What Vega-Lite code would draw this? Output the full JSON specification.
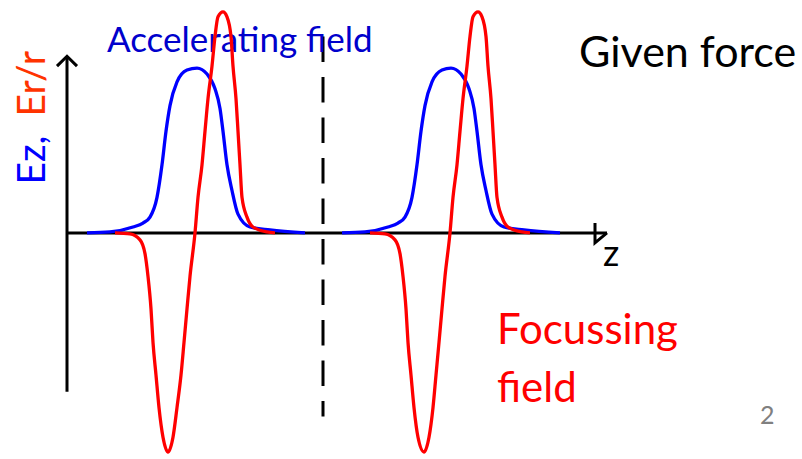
{
  "$schema": "https://vega.github.io/schema/vega-lite/v6.json",
  "width": 802,
  "height": 459,
  "autosize": {"type": "fit", "contains": "padding"},
  "padding": 0,
  "background": "white",
  "config": {"view": {"stroke": null}},
  "datasets": {
    "curves": [
      {"series": "Ez", "pulse": 1, "z": 20, "E": 0},
      {"series": "Ez", "pulse": 1, "z": 43, "E": 1},
      {"series": "Ez", "pulse": 1, "z": 66, "E": 6},
      {"series": "Ez", "pulse": 1, "z": 76, "E": 10},
      {"series": "Ez", "pulse": 1, "z": 83, "E": 16},
      {"series": "Ez", "pulse": 1, "z": 90, "E": 36},
      {"series": "Ez", "pulse": 1, "z": 95, "E": 69},
      {"series": "Ez", "pulse": 1, "z": 99, "E": 103},
      {"series": "Ez", "pulse": 1, "z": 103, "E": 129},
      {"series": "Ez", "pulse": 1, "z": 110, "E": 153},
      {"series": "Ez", "pulse": 1, "z": 120, "E": 165},
      {"series": "Ez", "pulse": 1, "z": 130, "E": 167},
      {"series": "Ez", "pulse": 1, "z": 140, "E": 161},
      {"series": "Ez", "pulse": 1, "z": 148, "E": 146},
      {"series": "Ez", "pulse": 1, "z": 153, "E": 126},
      {"series": "Ez", "pulse": 1, "z": 156, "E": 103},
      {"series": "Ez", "pulse": 1, "z": 160, "E": 69},
      {"series": "Ez", "pulse": 1, "z": 165, "E": 43},
      {"series": "Ez", "pulse": 1, "z": 171, "E": 19},
      {"series": "Ez", "pulse": 1, "z": 183, "E": 6},
      {"series": "Ez", "pulse": 1, "z": 203, "E": 3},
      {"series": "Ez", "pulse": 1, "z": 238, "E": 0},
      {"series": "Ez", "pulse": 2, "z": 275, "E": 0},
      {"series": "Ez", "pulse": 2, "z": 298, "E": 1},
      {"series": "Ez", "pulse": 2, "z": 321, "E": 6},
      {"series": "Ez", "pulse": 2, "z": 331, "E": 10},
      {"series": "Ez", "pulse": 2, "z": 338, "E": 16},
      {"series": "Ez", "pulse": 2, "z": 345, "E": 36},
      {"series": "Ez", "pulse": 2, "z": 350, "E": 69},
      {"series": "Ez", "pulse": 2, "z": 354, "E": 103},
      {"series": "Ez", "pulse": 2, "z": 358, "E": 129},
      {"series": "Ez", "pulse": 2, "z": 365, "E": 153},
      {"series": "Ez", "pulse": 2, "z": 375, "E": 165},
      {"series": "Ez", "pulse": 2, "z": 384, "E": 167},
      {"series": "Ez", "pulse": 2, "z": 394, "E": 161},
      {"series": "Ez", "pulse": 2, "z": 402, "E": 146},
      {"series": "Ez", "pulse": 2, "z": 407, "E": 126},
      {"series": "Ez", "pulse": 2, "z": 410, "E": 103},
      {"series": "Ez", "pulse": 2, "z": 414, "E": 69},
      {"series": "Ez", "pulse": 2, "z": 419, "E": 43},
      {"series": "Ez", "pulse": 2, "z": 425, "E": 19},
      {"series": "Ez", "pulse": 2, "z": 437, "E": 6},
      {"series": "Ez", "pulse": 2, "z": 457, "E": 3},
      {"series": "Ez", "pulse": 2, "z": 493, "E": 0},
      {"series": "Er", "pulse": 1, "z": 48, "E": 0},
      {"series": "Er", "pulse": 1, "z": 63, "E": -1},
      {"series": "Er", "pulse": 1, "z": 73, "E": -7},
      {"series": "Er", "pulse": 1, "z": 78, "E": -21},
      {"series": "Er", "pulse": 1, "z": 81, "E": -44},
      {"series": "Er", "pulse": 1, "z": 84, "E": -77},
      {"series": "Er", "pulse": 1, "z": 86, "E": -111},
      {"series": "Er", "pulse": 1, "z": 89, "E": -144},
      {"series": "Er", "pulse": 1, "z": 92, "E": -177},
      {"series": "Er", "pulse": 1, "z": 96, "E": -207},
      {"series": "Er", "pulse": 1, "z": 101, "E": -222},
      {"series": "Er", "pulse": 1, "z": 106, "E": -207},
      {"series": "Er", "pulse": 1, "z": 110, "E": -177},
      {"series": "Er", "pulse": 1, "z": 114, "E": -144},
      {"series": "Er", "pulse": 1, "z": 117, "E": -111},
      {"series": "Er", "pulse": 1, "z": 120, "E": -77},
      {"series": "Er", "pulse": 1, "z": 123, "E": -44},
      {"series": "Er", "pulse": 1, "z": 128, "E": 0},
      {"series": "Er", "pulse": 1, "z": 131, "E": 36},
      {"series": "Er", "pulse": 1, "z": 135, "E": 69},
      {"series": "Er", "pulse": 1, "z": 138, "E": 103},
      {"series": "Er", "pulse": 1, "z": 141, "E": 136},
      {"series": "Er", "pulse": 1, "z": 145, "E": 169},
      {"series": "Er", "pulse": 1, "z": 148, "E": 199},
      {"series": "Er", "pulse": 1, "z": 151, "E": 219},
      {"series": "Er", "pulse": 1, "z": 156, "E": 224},
      {"series": "Er", "pulse": 1, "z": 160, "E": 219},
      {"series": "Er", "pulse": 1, "z": 164, "E": 199},
      {"series": "Er", "pulse": 1, "z": 166, "E": 169},
      {"series": "Er", "pulse": 1, "z": 169, "E": 136},
      {"series": "Er", "pulse": 1, "z": 171, "E": 103},
      {"series": "Er", "pulse": 1, "z": 173, "E": 69},
      {"series": "Er", "pulse": 1, "z": 175, "E": 36},
      {"series": "Er", "pulse": 1, "z": 180, "E": 16},
      {"series": "Er", "pulse": 1, "z": 186, "E": 6},
      {"series": "Er", "pulse": 1, "z": 200, "E": 1},
      {"series": "Er", "pulse": 1, "z": 208, "E": 0},
      {"series": "Er", "pulse": 2, "z": 303, "E": 0},
      {"series": "Er", "pulse": 2, "z": 318, "E": -1},
      {"series": "Er", "pulse": 2, "z": 328, "E": -7},
      {"series": "Er", "pulse": 2, "z": 333, "E": -21},
      {"series": "Er", "pulse": 2, "z": 336, "E": -44},
      {"series": "Er", "pulse": 2, "z": 339, "E": -77},
      {"series": "Er", "pulse": 2, "z": 341, "E": -111},
      {"series": "Er", "pulse": 2, "z": 344, "E": -144},
      {"series": "Er", "pulse": 2, "z": 347, "E": -177},
      {"series": "Er", "pulse": 2, "z": 351, "E": -207},
      {"series": "Er", "pulse": 2, "z": 357, "E": -222},
      {"series": "Er", "pulse": 2, "z": 362, "E": -207},
      {"series": "Er", "pulse": 2, "z": 366, "E": -177},
      {"series": "Er", "pulse": 2, "z": 369, "E": -144},
      {"series": "Er", "pulse": 2, "z": 372, "E": -111},
      {"series": "Er", "pulse": 2, "z": 375, "E": -77},
      {"series": "Er", "pulse": 2, "z": 378, "E": -44},
      {"series": "Er", "pulse": 2, "z": 383, "E": 0},
      {"series": "Er", "pulse": 2, "z": 386, "E": 36},
      {"series": "Er", "pulse": 2, "z": 390, "E": 69},
      {"series": "Er", "pulse": 2, "z": 393, "E": 103},
      {"series": "Er", "pulse": 2, "z": 396, "E": 136},
      {"series": "Er", "pulse": 2, "z": 400, "E": 169},
      {"series": "Er", "pulse": 2, "z": 403, "E": 199},
      {"series": "Er", "pulse": 2, "z": 406, "E": 219},
      {"series": "Er", "pulse": 2, "z": 411, "E": 224},
      {"series": "Er", "pulse": 2, "z": 415, "E": 219},
      {"series": "Er", "pulse": 2, "z": 419, "E": 199},
      {"series": "Er", "pulse": 2, "z": 421, "E": 169},
      {"series": "Er", "pulse": 2, "z": 424, "E": 136},
      {"series": "Er", "pulse": 2, "z": 426, "E": 103},
      {"series": "Er", "pulse": 2, "z": 428, "E": 69},
      {"series": "Er", "pulse": 2, "z": 430, "E": 36},
      {"series": "Er", "pulse": 2, "z": 435, "E": 16},
      {"series": "Er", "pulse": 2, "z": 441, "E": 6},
      {"series": "Er", "pulse": 2, "z": 455, "E": 1},
      {"series": "Er", "pulse": 2, "z": 463, "E": 0}
    ],
    "axes": [
      {"part": "zaxis", "z": 0, "z2": 540, "E": 0, "E2": 0},
      {"part": "Eaxis", "z": 0, "z2": 0, "E": -161, "E2": 179}
    ],
    "arrows": [
      {"arrow": "z", "z": 528, "E": 10},
      {"arrow": "z", "z": 540, "E": 0},
      {"arrow": "z", "z": 528, "E": -10},
      {"arrow": "E", "z": -10, "E": 169},
      {"arrow": "E", "z": 0, "E": 179},
      {"arrow": "E", "z": 10, "E": 169}
    ],
    "divider": [
      {"z": 256, "z2": 256, "E": 199, "E2": -186}
    ],
    "labels": [
      {"label": "Accelerating field", "z": 40, "E": 183},
      {"label": "Given force", "z": 512, "E": 168},
      {"label": "z", "z": 536, "E": -34},
      {"label": "Focussing", "z": 430, "E": -113},
      {"label": "field", "z": 430, "E": -171},
      {"label": "2", "z": 693, "E": -194},
      {"label": "Ez,", "z": -22, "E": 49},
      {"label": "Er/r", "z": -22, "E": 118}
    ]
  },
  "encoding": {
    "x": {"field": "z", "type": "quantitative", "scale": {"domain": [-67, 735], "nice": false, "zero": false}, "axis": null},
    "y": {"field": "E", "type": "quantitative", "scale": {"domain": [-223, 236], "nice": false, "zero": false}, "axis": null}
  },
  "layer": [
    {
      "data": {"name": "axes"},
      "mark": {"type": "rule", "color": "black", "strokeWidth": 3},
      "encoding": {"x2": {"field": "z2"}, "y2": {"field": "E2"}}
    },
    {
      "data": {"name": "arrows"},
      "mark": {"type": "line", "color": "black", "strokeWidth": 3, "strokeJoin": "miter"},
      "encoding": {"detail": {"field": "arrow"}, "order": {"value": 0}}
    },
    {
      "data": {"name": "divider"},
      "mark": {"type": "rule", "color": "black", "strokeWidth": 3, "strokeDash": [25.5, 15]},
      "encoding": {"x2": {"field": "z2"}, "y2": {"field": "E2"}}
    },
    {
      "data": {"name": "labels"},
      "transform": [{"filter": "datum.label === 'Accelerating field'"}],
      "mark": {"type": "text", "align": "left", "baseline": "alphabetic", "font": "Lato", "fontSize": 35, "color": "#0000CC"},
      "encoding": {"text": {"field": "label"}}
    },
    {
      "data": {"name": "labels"},
      "transform": [{"filter": "datum.label === 'Given force'"}],
      "mark": {"type": "text", "align": "left", "baseline": "alphabetic", "font": "Lato", "fontSize": 43, "color": "black"},
      "encoding": {"text": {"field": "label"}}
    },
    {
      "data": {"name": "labels"},
      "transform": [{"filter": "datum.label === 'z'"}],
      "mark": {"type": "text", "align": "left", "baseline": "alphabetic", "font": "Lato", "fontSize": 36, "color": "black"},
      "encoding": {"text": {"field": "label"}}
    },
    {
      "data": {"name": "labels"},
      "transform": [{"filter": "datum.label === 'Focussing' || datum.label === 'field'"}],
      "mark": {"type": "text", "align": "left", "baseline": "alphabetic", "font": "Lato", "fontSize": 42, "color": "#FF0000"},
      "encoding": {"text": {"field": "label"}}
    },
    {
      "data": {"name": "labels"},
      "transform": [{"filter": "datum.label === '2'"}],
      "mark": {"type": "text", "align": "left", "baseline": "alphabetic", "font": "Lato", "fontSize": 25, "color": "#808080"},
      "encoding": {"text": {"field": "label"}}
    },
    {
      "data": {"name": "labels"},
      "transform": [{"filter": "datum.label === 'Ez,'"}],
      "mark": {"type": "text", "align": "left", "baseline": "alphabetic", "angle": 270, "font": "Lato", "fontSize": 39, "color": "#0000FF"},
      "encoding": {"text": {"field": "label"}}
    },
    {
      "data": {"name": "labels"},
      "transform": [{"filter": "datum.label === 'Er/r'"}],
      "mark": {"type": "text", "align": "left", "baseline": "alphabetic", "angle": 270, "font": "Lato", "fontSize": 39, "color": "#FF3300"},
      "encoding": {"text": {"field": "label"}}
    },
    {
      "data": {"name": "curves"},
      "transform": [{"filter": "datum.series === 'Ez'"}],
      "mark": {"type": "line", "color": "#0000FF", "strokeWidth": 3.3, "interpolate": "monotone"},
      "encoding": {"detail": {"field": "pulse"}}
    },
    {
      "data": {"name": "curves"},
      "transform": [{"filter": "datum.series === 'Er'"}],
      "mark": {"type": "line", "color": "#FF0000", "strokeWidth": 3.3, "interpolate": "monotone"},
      "encoding": {"detail": {"field": "pulse"}}
    }
  ]
}
